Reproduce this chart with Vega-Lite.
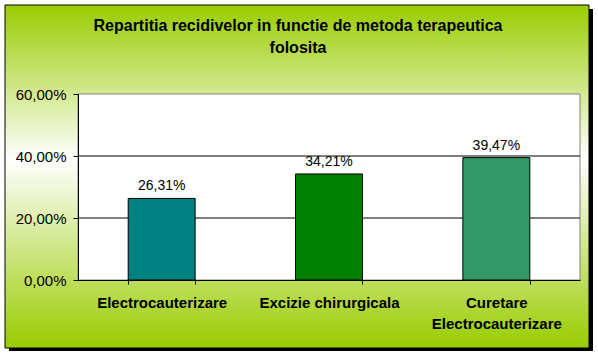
{
  "$schema": "https://vega.github.io/schema/vega-lite/v6.json",
  "width": 502,
  "height": 186,
  "autosize": {"type": "none"},
  "padding": {"left": 78, "top": 94, "right": 18, "bottom": 76},
  "background": "white",
  "title": {
    "text": ["Repartitia recidivelor in functie de metoda terapeutica", "folosita"],
    "anchor": "middle",
    "dx": -31,
    "offset": -51,
    "font": "Liberation Sans",
    "fontSize": 16,
    "fontWeight": "bold",
    "lineHeight": 22,
    "color": "black"
  },
  "config": {
    "view": {"stroke": null},
    "locale": {"number": {"decimal": ",", "thousands": ".", "grouping": [3], "currency": ["", " €"]}},
    "axis": {"grid": false, "domainColor": "black", "tickColor": "black", "labelColor": "black", "labelFont": "Liberation Sans"}
  },
  "layer": [
    {
      "data": {"values": [{}]},
      "mark": {"type": "rect", "fill": "black"},
      "encoding": {
        "x": {"value": -69}, "x2": {"value": 515},
        "y": {"value": -85}, "y2": {"value": 257}
      }
    },
    {
      "data": {"values": [{}]},
      "mark": {
        "type": "rect",
        "stroke": "black",
        "strokeWidth": 1,
        "fill": {
          "gradient": "linear", "x1": 0.5, "y1": 0, "x2": 0.5, "y2": 1,
          "stops": [
            {"offset": 0, "color": "#99cc00"},
            {"offset": 0.45, "color": "#ffffff"},
            {"offset": 1, "color": "#99cc00"}
          ]
        }
      },
      "encoding": {
        "x": {"value": -73}, "x2": {"value": 511},
        "y": {"value": -89}, "y2": {"value": 254}
      }
    },
    {
      "data": {"values": [{}]},
      "mark": {"type": "rect", "fill": "white", "stroke": "#808080", "strokeWidth": 1},
      "encoding": {
        "x": {"value": 0}, "x2": {"value": "width"},
        "y": {"value": 0}, "y2": {"value": "height"}
      }
    },
    {
      "data": {"values": [{"g": 0.2}, {"g": 0.4}]},
      "mark": {"type": "rule", "color": "black", "strokeWidth": 1},
      "encoding": {
        "y": {"field": "g", "type": "quantitative"}
      }
    },
    {
      "data": {"values": [
        {"metoda": "Electrocauterizare", "pct": 0.2631},
        {"metoda": "Excizie chirurgicala", "pct": 0.3421},
        {"metoda": "Curetare Electrocauterizare", "pct": 0.3947}
      ]},
      "layer": [
        {
          "mark": {"type": "bar", "stroke": "black", "strokeWidth": 1},
          "encoding": {
            "x": {
              "field": "metoda", "type": "nominal", "sort": null,
              "scale": {"paddingInner": 0.6, "paddingOuter": 0.3},
              "axis": {
                "zindex": 2,
                "title": null, "labelAngle": 0, "tickBand": "extent", "tickSize": 4,
                "labelPadding": 11, "labelFontSize": 15, "labelFontWeight": "bold",
                "labelLineHeight": 21,
                "labelExpr": "datum.label == 'Curetare Electrocauterizare' ? ['Curetare', 'Electrocauterizare'] : datum.label"
              }
            },
            "y": {
              "field": "pct", "type": "quantitative",
              "scale": {"domain": [0, 0.6]},
              "axis": {
                "zindex": 2,
                "title": null, "values": [0, 0.2, 0.4, 0.6], "format": ".2%",
                "tickSize": 5, "labelPadding": 7, "labelFontSize": 15
              }
            },
            "color": {
              "field": "metoda", "type": "nominal", "legend": null,
              "scale": {
                "domain": ["Electrocauterizare", "Excizie chirurgicala", "Curetare Electrocauterizare"],
                "range": ["#008080", "#008000", "#339966"]
              }
            }
          }
        },
        {
          "mark": {"type": "text", "baseline": "bottom", "dy": -5, "font": "Liberation Sans", "fontSize": 14, "color": "black"},
          "encoding": {
            "x": {"field": "metoda", "type": "nominal", "sort": null},
            "y": {"field": "pct", "type": "quantitative"},
            "text": {"field": "pct", "type": "quantitative", "format": ".2%"}
          }
        }
      ]
    }
  ]
}
